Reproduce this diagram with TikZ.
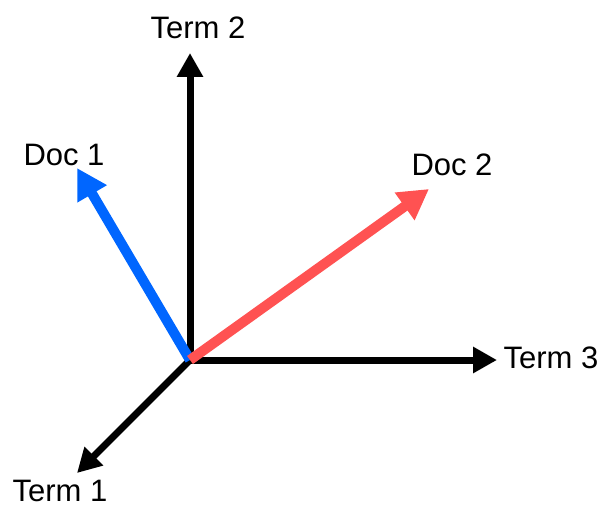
\documentclass[tikz,border=0pt]{standalone}
\usepackage{fontspec}
\setmainfont{Liberation Sans}
\usetikzlibrary{arrows.meta}
\definecolor{docblue}{RGB}{0,102,255}
\definecolor{docred}{RGB}{255,82,82}

\begin{document}
\begin{tikzpicture}[x=1pt,y=-1pt]

    \tikzset{
      axis/.style={
        line width=7pt,
        -{Triangle[length=24pt,width=25pt]},
      },
      docvec/.style={
        line width=10pt,
        -{Triangle[length=30pt,width=32pt]},
      },
      lbl/.style={
        font=\fontsize{31}{36}\selectfont,
        inner sep=0pt,
      },
    }
    \useasboundingbox (0,0) rectangle (605,508);
    \coordinate (o) at (190,360);
    \coordinate (t1) at (77,473);
    \coordinate (t2) at (190,53);
    \coordinate (t3) at (497,360);
    \coordinate (d1) at (77,168);
    \coordinate (d2) at (429,189);
    \node[lbl] (term1) at (60,491) {Term 1};
    \node[lbl] (term2) at (198,28) {Term 2};
    \node[lbl] (term3) at (551,358) {Term 3};
    \node[lbl] (doc1) at (64,155) {Doc 1};
    \node[lbl] (doc2) at (452,165) {Doc 2};
	\draw [axis,color={black}] (o)--(t2);
	\draw [axis,color={black}] (o)--(t3);
	\draw [axis,color={black}] (o)--(t1);
	\draw [docvec,color={docblue}] (o)--(d1);
	\draw [docvec,color={docred}] (o)--(d2);

\end{tikzpicture}
\end{document}
